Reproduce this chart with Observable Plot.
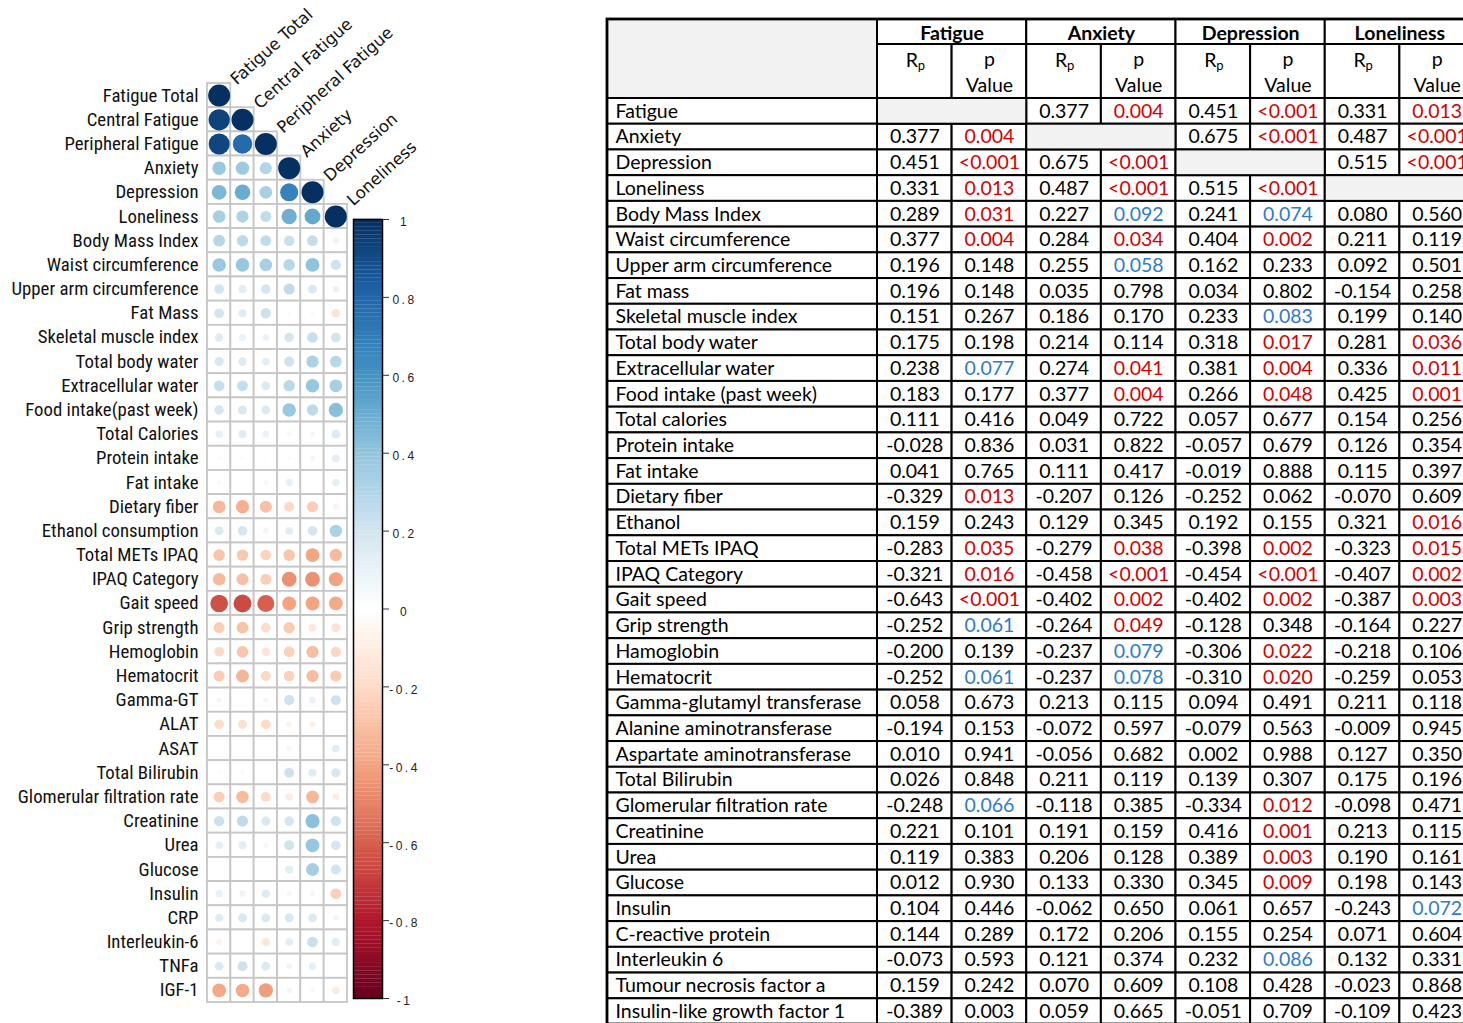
<!DOCTYPE html>
<html><head><meta charset="utf-8">
<script src="https://cdn.jsdelivr.net/npm/d3@7"></script>
<script src="https://cdn.jsdelivr.net/npm/@observablehq/plot@0.6"></script>
<style>
html,body{margin:0;padding:0;background:#fff;overflow:hidden;width:1463px;height:1023px}
#wrap{position:relative;width:1463px;height:1023px;overflow:hidden}
#wrap svg{position:absolute;left:0;top:0;background:transparent !important;max-width:none !important}
</style></head><body><div id="wrap"></div>
<script>
// ---------------- Correlation plot data ----------------
const corrVars = ["Fatigue Total","Central Fatigue","Peripheral Fatigue","Anxiety","Depression","Loneliness"];
const corrRows = ["Fatigue Total","Central Fatigue","Peripheral Fatigue","Anxiety","Depression","Loneliness",
  "Body Mass Index","Waist circumference","Upper arm circumference","Fat Mass","Skeletal muscle index",
  "Total body water","Extracellular water","Food intake(past week)","Total Calories","Protein intake",
  "Fat intake","Dietary fiber","Ethanol consumption","Total METs IPAQ","IPAQ Category","Gait speed",
  "Grip strength","Hemoglobin","Hematocrit","Gamma-GT","ALAT","ASAT","Total Bilirubin",
  "Glomerular filtration rate","Creatinine","Urea","Glucose","Insulin","CRP","Interleukin-6","TNFa","IGF-1"];
// estimated from circle size / colour
const centralFatigue = [null, 1, 0.78, 0.37, 0.50, 0.31,
  0.27, 0.38, 0.13, 0.14, 0.10, 0.15, 0.24, 0.17, 0.14, -0.03, 0.01, -0.36, 0.19, -0.27, -0.30, -0.66,
  -0.29, -0.28, -0.34, 0.00, -0.17, -0.01, 0.03, -0.32, 0.26, 0.13, 0.01, 0.08, 0.17, 0.00, 0.21, -0.38];
const peripheralFatigue = [null, null, 1, 0.30, 0.33, 0.25,
  0.25, 0.33, 0.19, 0.22, 0.09, 0.12, 0.16, 0.16, 0.10, -0.02, 0.05, -0.30, 0.07, -0.23, -0.25, -0.60,
  -0.19, -0.15, -0.21, 0.06, -0.20, 0.00, 0.00, -0.20, 0.17, 0.06, 0.00, 0.15, 0.16, -0.14, 0.16, -0.42];
const fatigueTotalWithSubscales = [1, 0.93, 0.92];
const colorStops = [-1, -0.8, -0.6, -0.4, -0.2, 0, 0.2, 0.4, 0.6, 0.8, 1];
const colorRange = ["#67001F","#B2182B","#D6604D","#F4A582","#FDDBC7","#FFFFFF","#D1E5F0","#92C5DE","#4393C3","#2166AC","#053061"];
const cbTicks = [-1, -0.8, -0.6, -0.4, -0.2, 0, 0.2, 0.4, 0.6, 0.8, 1];
const cbTickLabels = ["-1","-0.8","-0.6","-0.4","-0.2","0","0.2","0.4","0.6","0.8","1"];

// ---------------- Table data ----------------
const groups = ["Fatigue","Anxiety","Depression","Loneliness"];
const tableRows = ["Fatigue","Anxiety","Depression","Loneliness","Body Mass Index","Waist circumference",
  "Upper arm circumference","Fat mass","Skeletal muscle index","Total body water","Extracellular water",
  "Food intake (past week)","Total calories","Protein intake","Fat intake","Dietary fiber","Ethanol",
  "Total METs IPAQ","IPAQ Category","Gait speed","Grip strength","Hamoglobin","Hematocrit",
  "Gamma-glutamyl transferase","Alanine aminotransferase","Aspartate aminotransferase","Total Bilirubin",
  "Glomerular filtration rate","Creatinine","Urea","Glucose","Insulin","C-reactive protein","Interleukin 6",
  "Tumour necrosis factor a","Insulin-like growth factor 1"];
const fatigueR = ["","0.377","0.451","0.331","0.289","0.377","0.196","0.196","0.151","0.175","0.238","0.183","0.111","-0.028","0.041","-0.329","0.159","-0.283","-0.321","-0.643","-0.252","-0.200","-0.252","0.058","-0.194","0.010","0.026","-0.248","0.221","0.119","0.012","0.104","0.144","-0.073","0.159","-0.389"];
const fatigueP = ["","0.004","<0.001","0.013","0.031","0.004","0.148","0.148","0.267","0.198","0.077","0.177","0.416","0.836","0.765","0.013","0.243","0.035","0.016","<0.001","0.061","0.139","0.061","0.673","0.153","0.941","0.848","0.066","0.101","0.383","0.930","0.446","0.289","0.593","0.242","0.003"];
const fatigueSig = ["","r","r","r","r","r","","","","","b","","","","","r","","r","r","r","b","","b","","","","","b","","","","","","","",""];
const anxietyR = ["0.377","","0.675","0.487","0.227","0.284","0.255","0.035","0.186","0.214","0.274","0.377","0.049","0.031","0.111","-0.207","0.129","-0.279","-0.458","-0.402","-0.264","-0.237","-0.237","0.213","-0.072","-0.056","0.211","-0.118","0.191","0.206","0.133","-0.062","0.172","0.121","0.070","0.059"];
const anxietyP = ["0.004","","<0.001","<0.001","0.092","0.034","0.058","0.798","0.170","0.114","0.041","0.004","0.722","0.822","0.417","0.126","0.345","0.038","<0.001","0.002","0.049","0.079","0.078","0.115","0.597","0.682","0.119","0.385","0.159","0.128","0.330","0.650","0.206","0.374","0.609","0.665"];
const anxietySig = ["r","","r","r","b","r","b","","","","r","r","","","","","","r","r","r","r","b","b","","","","","","","","","","","","",""];
const depressionR = ["0.451","0.675","","0.515","0.241","0.404","0.162","0.034","0.233","0.318","0.381","0.266","0.057","-0.057","-0.019","-0.252","0.192","-0.398","-0.454","-0.402","-0.128","-0.306","-0.310","0.094","-0.079","0.002","0.139","-0.334","0.416","0.389","0.345","0.061","0.155","0.232","0.108","-0.051"];
const depressionP = ["<0.001","<0.001","","<0.001","0.074","0.002","0.233","0.802","0.083","0.017","0.004","0.048","0.677","0.679","0.888","0.062","0.155","0.002","<0.001","0.002","0.348","0.022","0.020","0.491","0.563","0.988","0.307","0.012","0.001","0.003","0.009","0.657","0.254","0.086","0.428","0.709"];
const depressionSig = ["r","r","","r","b","r","","","b","r","r","r","","","","","","r","r","r","","r","r","","","","","r","r","r","r","","","b","",""];
const lonelinessR = ["0.331","0.487","0.515","","0.080","0.211","0.092","-0.154","0.199","0.281","0.336","0.425","0.154","0.126","0.115","-0.070","0.321","-0.323","-0.407","-0.387","-0.164","-0.218","-0.259","0.211","-0.009","0.127","0.175","-0.098","0.213","0.190","0.198","-0.243","0.071","0.132","-0.023","-0.109"];
const lonelinessP = ["0.013","<0.001","<0.001","","0.560","0.119","0.501","0.258","0.140","0.036","0.011","0.001","0.256","0.354","0.397","0.609","0.016","0.015","0.002","0.003","0.227","0.106","0.053","0.118","0.945","0.350","0.196","0.471","0.115","0.161","0.143","0.072","0.604","0.331","0.868","0.423"];
const lonelinessSig = ["r","r","r","","","","","","","r","r","r","","","","","r","r","r","r","","","","","","","","","","","","b","","","",""];

// ---------------- Build correlation matrix ----------------
const num = a => a.map(v => v === "" ? null : +v);
const colFatigueTotal = [...fatigueTotalWithSubscales, ...num(fatigueR.slice(1))];
const colAnxiety = [null, null, null, 1, +anxietyR[2], +anxietyR[3], ...num(anxietyR.slice(4))];
const colDepression = [null, null, null, null, 1, +depressionR[3], ...num(depressionR.slice(4))];
const colLoneliness = [null, null, null, null, null, 1, ...num(lonelinessR.slice(4))];
const corrCols = [colFatigueTotal, centralFatigue, peripheralFatigue, colAnxiety, colDepression, colLoneliness];
const corrData = [];
corrRows.forEach((row, i) => corrCols.forEach((col, j) => {
  if (j <= i && col[i] !== null) corrData.push({row, col: corrVars[j], r: col[i]});
}));

const W = 1463, H = 1023;
const wrap = document.getElementById("wrap");
const rowFont = "'Liberation Sans Narrow', 'Roboto Condensed', 'Arial Narrow', Roboto, sans-serif";

const corrPlot = Plot.plot({
  width: W, height: H,
  marginLeft: 207, marginRight: W - 347, marginTop: 83, marginBottom: H - 1002,
  style: {background: "transparent", fontFamily: rowFont, fontSize: "18.8px", color: "#111"},
  x: {type: "band", domain: corrVars, padding: 0, round: false, axis: null},
  y: {type: "band", domain: corrRows, padding: 0, round: false, axis: null},
  r: {type: "sqrt", domain: [0, 1], range: [0, 11]},
  color: {type: "linear", domain: colorStops, range: colorRange},
  marks: [
    Plot.cell(corrData, {x: "col", y: "row", fill: "white", stroke: "#c6c6c6", strokeWidth: 1.8}),
    Plot.dot(corrData, {x: "col", y: "row", r: d => Math.abs(d.r), fill: "r", stroke: null}),
    Plot.axisY({anchor: "left", label: null, tickSize: 0, tickPadding: 9, fontSize: 18.8, fontFamily: rowFont}),
    Plot.text(corrVars, {x: d => d, y: d => d, text: d => d, textAnchor: "start", rotate: -42,
      dx: 14, dy: -14, fontFamily: "DejaVu Sans", fontSize: 16.5, fill: "#111"})
  ]
});
wrap.appendChild(corrPlot);

const gradStep = 0.01;
const gradSteps = d3.range(-1, 1, gradStep);
const cbPlot = Plot.plot({
  width: W, height: H,
  marginLeft: 353, marginRight: W - 382, marginTop: 219, marginBottom: H - 998,
  style: {background: "transparent", fontFamily: "'Liberation Sans', Arial, sans-serif", fontSize: "12px", letterSpacing: "2.5px"},
  x: {axis: null},
  y: {type: "linear", domain: [-1, 1], axis: null},
  color: {type: "linear", domain: colorStops, range: colorRange},
  marks: [
    Plot.rect(gradSteps, {y1: d => d, y2: d => d + gradStep * 1.05, fill: d => d + gradStep / 2}),
    Plot.frame({stroke: "#000", strokeWidth: 1.5}),
    Plot.axisY({anchor: "right", label: null, ticks: cbTicks, tickSize: 6, tickFormat: () => "", stroke: "#333"}),
    Plot.text(cbTicks, {y: d => d, text: (d, i) => cbTickLabels[i], frameAnchor: "right", dx: 22, dy: 3, textAnchor: "middle", fill: "#222"})
  ]
});
wrap.appendChild(cbPlot);

// ---------------- Table ----------------
const groupR = [fatigueR, anxietyR, depressionR, lonelinessR];
const groupP = [fatigueP, anxietyP, depressionP, lonelinessP];
const groupSig = [fatigueSig, anxietySig, depressionSig, lonelinessSig];
const nCols = 1 + 2 * groups.length;
const nRows = tableRows.length;

const whiteCells = [], grayCells = [], valueCells = [];
grayCells.push({x1: 0, x2: 1, y1: -2, y2: 0});
groups.forEach((g, k) => {
  whiteCells.push({x1: 1 + 2 * k, x2: 3 + 2 * k, y1: -2, y2: -1});
  whiteCells.push({x1: 1 + 2 * k, x2: 2 + 2 * k, y1: -1, y2: 0});
  whiteCells.push({x1: 2 + 2 * k, x2: 3 + 2 * k, y1: -1, y2: 0});
});
tableRows.forEach((name, i) => {
  whiteCells.push({x1: 0, x2: 1, y1: i, y2: i + 1});
  groups.forEach((g, k) => {
    if (groupR[k][i] === "") {
      grayCells.push({x1: 1 + 2 * k, x2: 3 + 2 * k, y1: i, y2: i + 1});
    } else {
      whiteCells.push({x1: 1 + 2 * k, x2: 2 + 2 * k, y1: i, y2: i + 1});
      whiteCells.push({x1: 2 + 2 * k, x2: 3 + 2 * k, y1: i, y2: i + 1});
      valueCells.push({col: 1 + 2 * k, row: i, text: groupR[k][i], sig: "k"});
      valueCells.push({col: 2 + 2 * k, row: i, text: groupP[k][i], sig: groupSig[k][i] || "k"});
    }
  });
});
const subCols = groups.flatMap((g, k) => [1 + 2 * k, 2 + 2 * k]);
const rpCols = subCols.filter((c, i) => i % 2 === 0);
const pCols = subCols.filter((c, i) => i % 2 === 1);
const tFont = "Lato, 'Open Sans', sans-serif";
const tSize = 19.5;

const tablePlot = Plot.plot({
  width: W, height: H, margin: 0,
  style: {background: "transparent", fontFamily: tFont, fontSize: tSize + "px", color: "#000"},
  x: {type: "linear", domain: [0, 1, nCols], range: [607, 877, 1474], axis: null},
  y: {type: "linear", domain: [-2, -1, 0, nRows], range: [19, 44, 98, 1024], axis: null},
  color: {type: "ordinal", domain: ["k", "r", "b"], range: ["#000000", "#d40000", "#2f7bc8"]},
  marks: [
    Plot.rect(whiteCells, {x1: "x1", x2: "x2", y1: "y1", y2: "y2", fill: "white", stroke: "#000", strokeWidth: 2}),
    Plot.rect(grayCells, {x1: "x1", x2: "x2", y1: "y1", y2: "y2", fill: "#f2f2f2", stroke: "#000", strokeWidth: 2}),
    Plot.rect([nRows], {x1: () => 0, x2: () => nCols, y1: () => -2, y2: d => d, fill: "none", stroke: "#000", strokeWidth: 2.8}),
    Plot.text(tableRows, {x: () => 0, y: (d, i) => i + 0.5, text: d => d, textAnchor: "start", dx: 8, fontSize: tSize, fill: "#000"}),
    Plot.text(valueCells, {x: d => d.col + 0.5, y: d => d.row + 0.5, text: "text", fill: "sig", fontSize: tSize}),
    Plot.text(groups, {x: (d, i) => 2 + 2 * i, y: () => -1.5, text: d => d, dy: 1.5, fontWeight: "bold", fontSize: tSize, fill: "#000"}),
    Plot.text(rpCols, {x: d => d + 0.5, y: () => -1, text: () => "R", dx: -3, dy: 16, fontSize: tSize, fill: "#000"}),
    Plot.text(rpCols, {x: d => d + 0.5, y: () => -1, text: () => "p", dx: 6.5, dy: 21, fontSize: 13, fill: "#000"}),
    Plot.text(pCols, {x: d => d + 0.5, y: () => -1, text: () => "p", dy: 15, fontSize: tSize, fill: "#000"}),
    Plot.text(pCols, {x: d => d + 0.5, y: () => -1, text: () => "Value", dy: 41, fontSize: tSize, fill: "#000"})
  ]
});
wrap.appendChild(tablePlot);
</script></body></html>
